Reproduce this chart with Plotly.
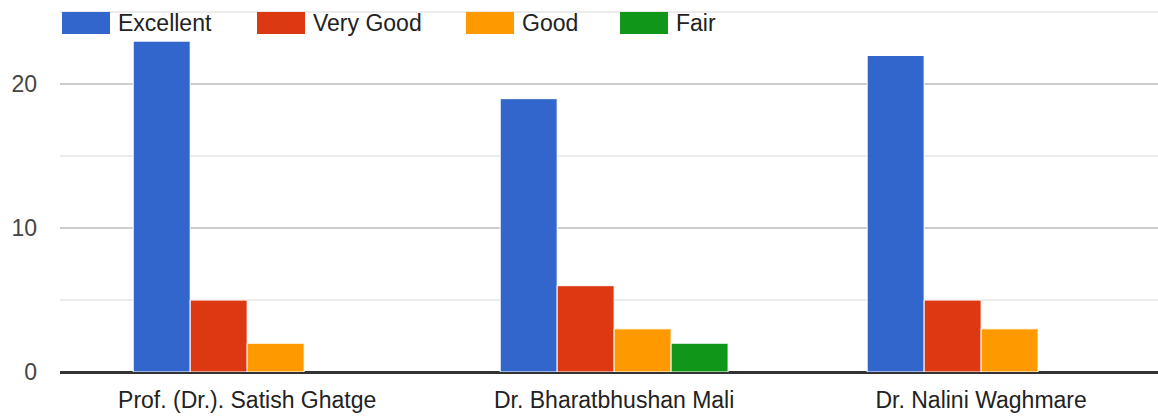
import plotly.graph_objects as go

# Dados
docentes = ["Prof. (Dr.). Satish Ghatge", "Dr. Bharatbhushan Mali", "Dr. Nalini Waghmare"]
excellent = [23, 19, 22]
very_good = [5, 6, 5]
good = [2, 3, 3]
fair = [0, 2, 0]

series = [
    ("Excellent", excellent, "#3366CC"),
    ("Very Good", very_good, "#DC3912"),
    ("Good", good, "#FF9900"),
    ("Fair", fair, "#109618"),
]

W, H = 1158, 417
ML, MR, MT, MB = 60, 0, 0, 45
plot_w = W - ML - MR
plot_h = H - MT - MB
FONT_SIZE = 23


def px_x(px):
    return (px - ML) / plot_w


def px_y(py):
    return (H - MB - py) / plot_h


fig = go.Figure()

for name, vals, color in series:
    fig.add_trace(go.Bar(
        x=docentes,
        y=vals,
        name=name,
        # sem borda nas barras de valor zero (não cobre a linha do eixo)
        marker=dict(color=color, line=dict(color="white", width=[1 if v else 0 for v in vals])),
        showlegend=False,
    ))

# Legenda estilo Google Forms (retângulos grandes)
legend_x = [62, 257, 466, 620]
shapes = []
annotations = []
for (name, vals, color), lx in zip(series, legend_x):
    shapes.append(dict(
        type="rect", xref="paper", yref="paper",
        x0=px_x(lx), x1=px_x(lx + 48), y0=px_y(34), y1=px_y(12),
        fillcolor=color, line=dict(width=0), layer="above",
    ))
    annotations.append(dict(
        text=name, xref="paper", yref="paper",
        x=px_x(lx + 54), y=px_y(23), xanchor="left", yanchor="middle",
        showarrow=False, font=dict(size=FONT_SIZE, color="#222222"),
    ))

fig.update_layout(
    width=W, height=H,
    margin=dict(l=ML, r=MR, t=MT, b=MB),
    barmode="group",
    bargap=0.379,
    bargroupgap=0,
    plot_bgcolor="white",
    paper_bgcolor="white",
    font=dict(family="Arial, Liberation Sans, sans-serif", size=FONT_SIZE, color="#222222"),
    shapes=shapes,
    annotations=annotations,
    xaxis=dict(
        range=[-0.51, 2.482],
        showgrid=False,
        ticks="",
        ticklabelstandoff=12,
        tickfont=dict(size=FONT_SIZE, color="#222222"),
    ),
    yaxis=dict(
        range=[0, 25.86],
        tickvals=[0, 10, 20],
        showgrid=True,
        gridcolor="#cccccc",
        gridwidth=2,
        minor=dict(tickvals=[5, 15, 25], showgrid=True, gridcolor="#ebebeb", gridwidth=2),
        zeroline=True,
        zerolinecolor="#333333",
        zerolinewidth=3,
        ticks="",
        ticklabelstandoff=22,
        tickfont=dict(size=FONT_SIZE, color="#444444"),
    ),
)

fig.write_html(
    "out.html",
    config={"displayModeBar": False},
    post_script="document.body.style.margin='0';",
)
